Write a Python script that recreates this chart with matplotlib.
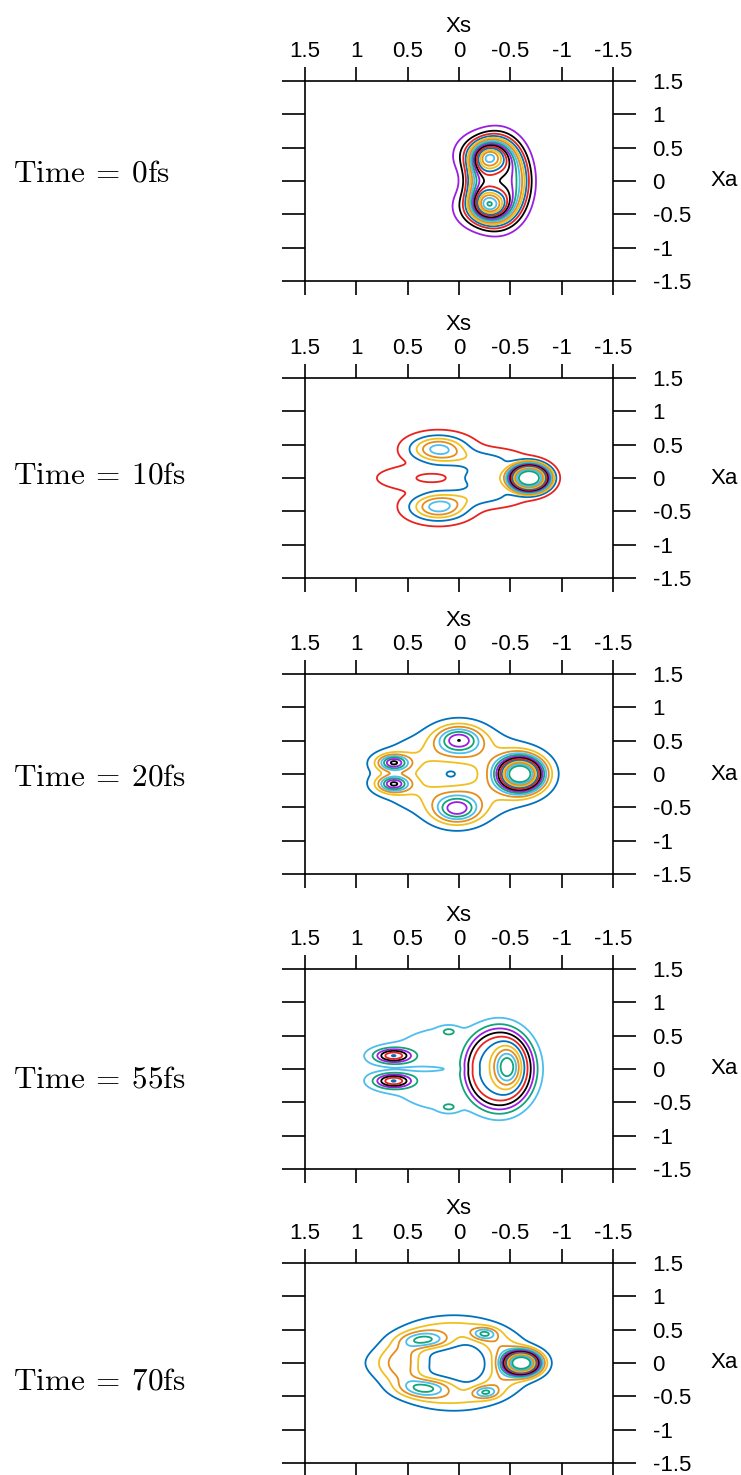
import numpy as np
import matplotlib
matplotlib.use('Agg')
import matplotlib.pyplot as plt

plt.rcParams['font.family'] = ['Liberation Sans', 'DejaVu Sans']
plt.rcParams['mathtext.fontset'] = 'cm'
plt.rcParams['axes.unicode_minus'] = False

# time labels of the five snapshots
times = ['0', '10', '20', '55', '70']

# contour colour order (outer -> inner), each panel starts at its own offset
line_colors = ['#E8231F', '#0072BD', '#F0C020', '#E58E1A',
               '#4DBEEE', '#11A579', '#9B1FE0', '#000000']
color_start = [6, 0, 1, 4, 1]

# contour levels (relative density)
levels_0fs = [0.03, 0.088, 0.146, 0.204, 0.262, 0.32, 0.378, 0.436,
              0.494, 0.552, 0.61, 0.668, 0.726, 0.784, 0.842, 0.9]
levels_10fs = [0.03, 0.1, 0.17, 0.24, 0.31, 0.38, 0.45, 0.52,
               0.59, 0.66, 0.73, 0.8, 0.87, 0.94]
levels_20fs = [0.03, 0.105, 0.18, 0.255, 0.33, 0.405, 0.48, 0.555,
               0.63, 0.705, 0.78, 0.855, 0.93]
levels_55fs = [0.04, 0.14, 0.24, 0.34, 0.44, 0.54, 0.64, 0.74, 0.84, 0.94]
levels_70fs = [0.04, 0.115, 0.19, 0.265, 0.34, 0.415, 0.49, 0.565,
               0.64, 0.715, 0.79, 0.865, 0.94]

# density lobes: (Xs, Xa, width Xs, width Xa, height, shape)
lobes_0fs = [(-0.27, 0.38, 0.14, 0.17, 0.46, 1.0),
             (-0.27, -0.38, 0.14, 0.17, 0.5, 1.0),
             (-0.38, 0.0, 0.24, 0.52, 0.5, 2.0)]
lobes_10fs = [(-0.69, 0.0, 0.16, 0.17, 1.0, 1.6),
              (-0.3, 0.0, 0.22, 0.2, 0.15, 1.0),
              (0.2, 0.44, 0.18, 0.13, 0.33, 1.0),
              (0.2, -0.44, 0.18, 0.13, 0.34, 1.0),
              (-0.15, 0.3, 0.3, 0.1, 0.08, 1.0),
              (-0.15, -0.3, 0.3, 0.1, 0.08, 1.0),
              (0.4, 0.0, 0.35, 0.16, 0.07, 2.0),
              (0.25, 0.0, 0.18, 0.08, -0.06, 2.0)]
lobes_20fs = [(-0.6, 0.0, 0.16, 0.19, 1.0, 1.2),
              (0.0, 0.52, 0.15, 0.14, 0.4, 1.0),
              (0.02, -0.53, 0.15, 0.14, 0.4, 1.0),
              (0.64, 0.17, 0.1, 0.08, 0.43, 1.0),
              (0.64, -0.15, 0.1, 0.08, 0.43, 1.0),
              (0.0, 0.0, 0.62, 0.5, 0.14, 2.0),
              (0.1, 0.0, 0.3, 0.22, -0.06, 2.0),
              (0.08, 0.0, 0.07, 0.07, -0.06, 1.0)]
lobes_55fs = [(-0.4, 0.0, 0.3, 0.55, 0.5, 2.5),
              (-0.47, 0.03, 0.09, 0.2, 0.5, 1.0),
              (0.64, 0.2, 0.12, 0.07, 0.5, 1.0),
              (0.64, -0.18, 0.12, 0.07, 0.5, 1.0),
              (0.1, 0.0, 0.6, 0.6, 0.07, 2.0),
              (0.45, 0.0, 0.3, 0.04, -0.05, 1.0),
              (0.1, 0.56, 0.05, 0.04, 0.15, 1.0),
              (0.1, -0.57, 0.05, 0.04, 0.15, 1.0)]
lobes_70fs = [(-0.62, 0.0, 0.13, 0.13, 1.0, 1.2),
              (0.05, 0.0, 0.6, 0.55, 0.26, 2.5),
              (0.05, -0.01, 0.37, 0.4, -0.26, 2.5),
              (0.3, 0.34, 0.16, 0.08, 0.24, 1.0),
              (0.3, -0.37, 0.17, 0.09, 0.25, 1.0),
              (-0.25, 0.44, 0.08, 0.06, 0.21, 1.0),
              (-0.26, -0.44, 0.08, 0.06, 0.21, 1.0),
              (0.6, 0.0, 0.25, 0.15, 0.06, 1.0)]

panel_levels = [levels_0fs, levels_10fs, levels_20fs, levels_55fs, levels_70fs]
panel_lobes = [lobes_0fs, lobes_10fs, lobes_20fs, lobes_55fs, lobes_70fs]

tick_vals = [1.5, 1, 0.5, 0, -0.5, -1, -1.5]
tick_text = ['1.5', '1', '0.5', '0', '-0.5', '-1', '-1.5']


def density(xs, xa, lobes):
    '''sum of (super-)gaussian lobes on the Xs / Xa grid'''
    z = np.zeros_like(xs)
    for cx, cy, sx, sy, amp, p in lobes:
        u = ((xs - cx) / sx) ** 2 + ((xa - cy) / sy) ** 2
        z += amp * np.exp(-0.5 * u ** p)
    return z


xs_grid = np.linspace(-1.5, 1.5, 401)
xa_grid = np.linspace(-1.5, 1.5, 301)
XS, XA = np.meshgrid(xs_grid, xa_grid)

fig = plt.figure(figsize=(7.41, 14.75), dpi=100)

panel_top = [81, 378, 674, 969, 1263]   # pixel rows of the frame tops
label_y = [173, 475, 777, 1079, 1381]   # pixel rows of the time labels

for i in range(5):
    bottom = 1 - (panel_top[i] + 200) / 1475
    ax = fig.add_axes([305 / 741, bottom, 308 / 741, 200 / 1475])

    z = density(XS, XA, panel_lobes[i])
    cols = [line_colors[(color_start[i] + k) % 8] for k in range(len(panel_levels[i]))]
    ax.contour(XS, XA, z, levels=panel_levels[i], colors=cols, linewidths=1.3)

    ax.set_xlim(1.5, -1.5)
    ax.set_ylim(-1.5, 1.5)
    ax.set_xticks(tick_vals)
    ax.set_xticklabels(tick_text)
    ax.set_yticks(tick_vals)
    ax.set_yticklabels(tick_text)
    ax.tick_params(axis='x', direction='out', top=True, bottom=True,
                   labeltop=True, labelbottom=False, length=10, width=1.2,
                   pad=4, labelsize=16)
    ax.tick_params(axis='y', direction='out', left=True, right=True,
                   labelleft=False, labelright=True, length=16.5, width=1.2,
                   pad=12, labelsize=16)
    for sp in ax.spines.values():
        sp.set_linewidth(1.2)

    ax.xaxis.set_label_position('top')
    ax.set_xlabel('Xs', fontsize=16, va='center')
    ax.xaxis.set_label_coords(0.5, 1.27)
    ax.yaxis.set_label_position('right')
    ax.set_ylabel('Xa', fontsize=16, rotation=0, ha='left', va='center')
    ax.yaxis.set_label_coords(1.315, 0.5)

    fig.text(13 / 741, 1 - label_y[i] / 1475,
             r'$\mathrm{Time}\:=\:' + times[i] + r'\mathrm{fs}$',
             fontsize=22.5, ha='left', va='center')

fig.savefig('out.png', dpi=100)
